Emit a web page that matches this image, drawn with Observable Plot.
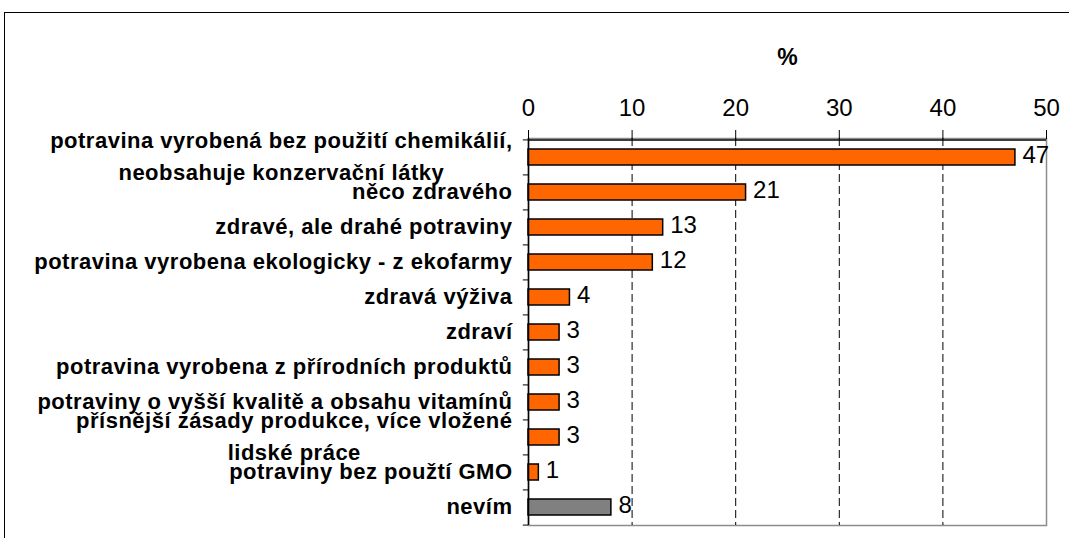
<!DOCTYPE html>
<html><head><meta charset="utf-8">
<script src="https://cdn.jsdelivr.net/npm/d3@7"></script>
<script src="https://cdn.jsdelivr.net/npm/@observablehq/plot@0.6"></script>
<style>
body{margin:0;overflow:hidden;background:#fff;}
#wrap{position:relative;width:1069px;height:538px;}
#border{position:absolute;left:4px;top:12px;width:2000px;height:2000px;border:1px solid #000;box-sizing:border-box;pointer-events:none;}
</style></head><body><div id="wrap"><div id="border"></div></div>
<script>
const categories = [
  "potravina vyrobená bez použití chemikálií,\nneobsahuje konzervační látky",
  "něco zdravého",
  "zdravé, ale drahé potraviny",
  "potravina vyrobena ekologicky - z ekofarmy",
  "zdravá výživa",
  "zdraví",
  "potravina vyrobena z přírodních produktů",
  "potraviny o vyšší kvalitě a obsahu vitamínů",
  "přísnější zásady produkce, více vložené\nlidské práce",
  "potraviny bez použtí GMO",
  "nevím"
];
const values = [47, 21, 13, 12, 4, 3, 3, 3, 3, 1, 8];
const groups = ["odpověď","odpověď","odpověď","odpověď","odpověď","odpověď","odpověď","odpověď","odpověď","odpověď","nevím"];
const groupDomain = ["odpověď", "nevím"];
const groupColors = ["#FF6600", "#808080"];
const xTicks = [0, 10, 20, 30, 40, 50];
const gridTicks = [10, 20, 30, 40];
const axisTitle = "%";

const data = categories.map((c, i) => ({category: c, value: values[i], group: groups[i]}));

const W = 1069, H = 538, mTop = 138, mBottom = 13, mLeft = 528, mRight = 23;
const step = (H - mTop - mBottom) / categories.length;
const last = categories[categories.length - 1];

const chart = Plot.plot({
  width: W, height: H,
  marginTop: mTop, marginBottom: mBottom, marginLeft: mLeft, marginRight: mRight,
  style: {fontFamily: "'Liberation Sans', Arial, sans-serif", color: "#000", background: "transparent"},
  x: {domain: [0, 50]},
  y: {domain: categories, paddingInner: 0.55, paddingOuter: 0.275},
  color: {domain: groupDomain, range: groupColors},
  marks: [
    Plot.frame({stroke: "#8c8c8c", strokeWidth: 1.5}),
    Plot.ruleX(gridTicks, {stroke: "#000", strokeWidth: 1, strokeDasharray: "8,4"}),
    Plot.barX(data, {x: "value", y: "category", fill: "group", stroke: "#000", strokeWidth: 1.5}),
    Plot.text(data, {x: "value", y: "category", text: d => String(d.value), textAnchor: "start", dx: 7, dy: -2, fontSize: 24}),
    Plot.ruleX([0], {stroke: "#000", strokeWidth: 1.5}),
    Plot.ruleY([categories[0]], {dy: -step / 2, stroke: "#000", strokeWidth: 1.5}),
    Plot.ruleY(categories, {x1: -0.5, x2: 0, dy: -step / 2, stroke: "#000", strokeWidth: 1}),
    Plot.ruleY([last], {x1: -0.5, x2: 0, dy: step / 2, stroke: "#000", strokeWidth: 1}),
    Plot.axisX({anchor: "top", ticks: xTicks, tickSize: 9, tickPadding: 14, fontSize: 24, label: null}),
    Plot.axisY({anchor: "left", tickSize: 0, tickPadding: 16, dy: -4, fontSize: 22, fontWeight: "bold", lineHeight: 1.45, label: null}),
    Plot.text([axisTitle], {frameAnchor: "top", dy: -90, fontSize: 23, fontWeight: "bold"})
  ]
});
document.getElementById("wrap").appendChild(chart);
chart.querySelectorAll('g[aria-label="y-axis tick label"] text').forEach(t => {
  t.style.letterSpacing = "0.5px";
  const spans = t.querySelectorAll("tspan");
  if (spans.length < 2) return;
  const ws = [...spans].map(s => s.getComputedTextLength());
  const M = Math.max(...ws);
  spans.forEach((s, i) => s.setAttribute("dx", -(M - ws[i]) / 2));
});
</script>
</body></html>
